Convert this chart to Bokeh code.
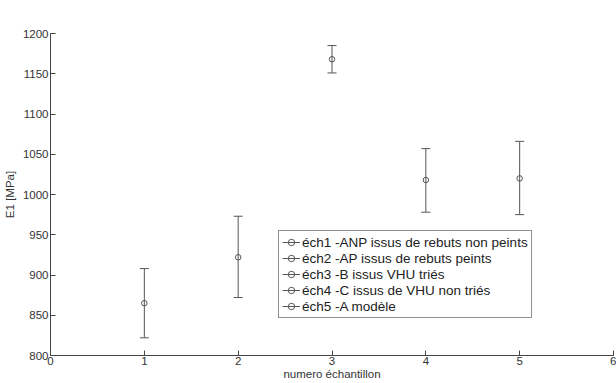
from bokeh.plotting import figure
from bokeh.models import Whisker, TeeHead, ColumnDataSource, Legend, LegendItem, FixedTicker, Range1d
from bokeh.embed import file_html
from bokeh.resources import INLINE

samples = [1, 2, 3, 4, 5]
e1_mean = [865, 922, 1168, 1018, 1020]
e1_low = [822, 872, 1151, 978, 975]
e1_high = [908, 973, 1185, 1057, 1066]
labels = [
    "éch1 -ANP issus de rebuts non peints",
    "éch2 -AP issus de rebuts peints",
    "éch3 -B issus VHU triés",
    "éch4 -C issus de VHU non triés",
    "éch5 -A modèle",
]
x_ticks = [0, 1, 2, 3, 4, 5, 6]
y_ticks = [800, 850, 900, 950, 1000, 1050, 1100, 1150, 1200]

FONT = "Liberation Sans"
GRAY = "#555555"
TXT = "#333333"

p = figure(width=616, height=383, output_backend="svg", toolbar_location=None,
           x_range=Range1d(0, 6), y_range=Range1d(800, 1200),
           min_border_left=50, min_border_right=3, min_border_top=33, min_border_bottom=28)
p.grid.visible = False
p.outline_line_color = None

for ax in (p.xaxis[0], p.yaxis[0]):
    ax.axis_line_color = "#444444"
    ax.major_tick_line_color = "#444444"
    ax.major_tick_in = 5
    ax.major_tick_out = 0
    ax.minor_tick_line_color = None
    ax.major_label_text_font = FONT
    ax.major_label_text_font_size = "11.5px"
    ax.major_label_text_color = TXT
    ax.axis_label_text_font = FONT
    ax.axis_label_text_font_size = "11.5px"
    ax.axis_label_text_font_style = "normal"
    ax.axis_label_text_color = TXT

p.xaxis.ticker = FixedTicker(ticks=x_ticks)
p.yaxis.ticker = FixedTicker(ticks=y_ticks)
p.xaxis.axis_label = "numero échantillon"
p.yaxis.axis_label = "E1 [MPa]"
p.xaxis.major_label_standoff = 1
p.xaxis.axis_label_standoff = 0
p.yaxis.major_label_standoff = 2
p.yaxis.axis_label_standoff = 4

items = []
for i in range(len(samples)):
    src = ColumnDataSource(dict(x=[samples[i]], y=[e1_mean[i]], lo=[e1_low[i]], hi=[e1_high[i]]))
    w = Whisker(source=src, base="x", lower="lo", upper="hi", line_color=GRAY, line_width=1,
                upper_head=TeeHead(size=9, line_color=GRAY, line_width=1),
                lower_head=TeeHead(size=9, line_color=GRAY, line_width=1))
    p.add_layout(w)
    ln = p.line("x", "y", source=src, line_color=GRAY, line_width=1)
    sc = p.scatter("x", "y", source=src, marker="circle", size=5.5, fill_color=None,
                   line_color=GRAY, line_width=1)
    items.append(LegendItem(label=labels[i], renderers=[ln, sc]))

legend = Legend(items=items, location=(228, 37))
legend.label_text_font = FONT
legend.label_text_font_size = "13.5px"
legend.label_text_color = "#222222"
legend.border_line_color = "#222222"
legend.border_line_width = 1
legend.background_fill_color = "white"
legend.background_fill_alpha = 1
legend.glyph_width = 18
legend.glyph_height = 16
legend.label_height = 16
legend.label_standoff = 2
legend.spacing = 0
legend.padding = 3
legend.margin = 0
p.add_layout(legend, "center")

open("out.html", "w").write(file_html(p, INLINE))
